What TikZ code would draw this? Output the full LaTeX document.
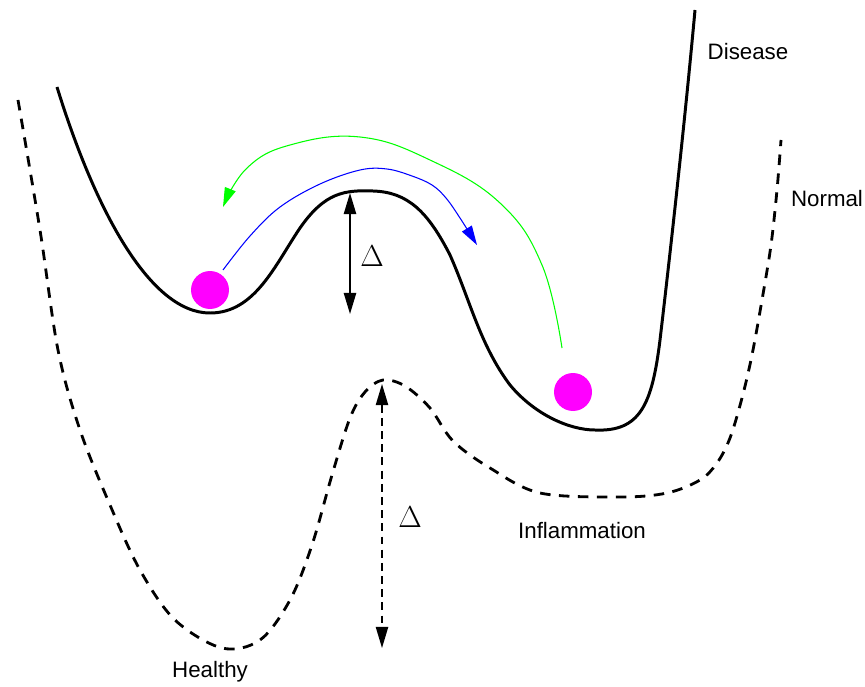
\documentclass[tikz,border=0pt]{standalone}
\usepackage{fontspec}
\newfontfamily\labelfont{Liberation Sans}
\usetikzlibrary{arrows.meta}
\definecolor{ballcol}{RGB}{255,0,255}
\definecolor{upcol}{RGB}{0,255,0}
\definecolor{downcol}{RGB}{0,0,255}
\begin{document}
\begin{tikzpicture}[x=0.02cm, y=-0.02cm,
  landscape/.style={line width=1.7pt, line join=round},
  relaxed/.style={line width=1.6pt, dash pattern=on 6pt off 4.8pt},
  barrier/.style={line width=0.9pt, {Triangle[length=12pt,width=7pt]}-{Triangle[length=12pt,width=7pt]}},
  path/.style={line width=0.6pt, -{Triangle[length=11pt,width=6.5pt]}},
  state/.style={circle, fill=ballcol, minimum size=0.76cm, inner sep=0pt},
  tag/.style={font=\labelfont\fontsize{12.7}{15}\selectfont, inner sep=0pt},
  gap/.style={font=\fontsize{17}{20}\selectfont, inner sep=0pt}]
\useasboundingbox (0,0) rectangle (865,686);

% disease landscape (solid)
\draw[landscape] (57,87)
  .. controls (95,210) and (150,313) .. (210,313)
  .. controls (255,313) and (275,265) .. (300,228)
  .. controls (325,192) and (345,190) .. (373,191)
  .. controls (408,192) and (428,212) .. (450,255)
  .. controls (470,300) and (480,345) .. (510,385)
  .. controls (535,415) and (570,430) .. (595,430)
  .. controls (640,432) and (652,405) .. (660,340)
  .. controls (670,255) and (685,120) .. (695,10);

% normal landscape (dashed)
\draw[relaxed] plot[smooth, tension=0.55] coordinates {
  (18,100) (40,230) (58,350) (80,430) (110,505) (140,570) (175,620)
  (222,648) (260,640) (290,600) (312,545) (332,475) (350,418)
  (365,392) (383,380) (405,386) (430,408) (453,441) (490,468)
  (540,493) (620,497) (667,493) (700,480) (717,463) (730,438)
  (742,398) (752,355) (762,300) (771,245) (777,190) (781,140)};

% states
\node[state] (s1) at (210,290) {};
\node[state] (s2) at (573,392) {};

% barrier heights
\coordinate (b1t) at (350,193);
\coordinate (b1b) at (350,314);
\draw[barrier] (b1t) -- (b1b);
\node[gap] (d1) at (372,256) {$\Delta$};

\coordinate (b2t) at (382,384);
\coordinate (b2b) at (382,648);
\draw[barrier, line width=0.8pt, dash pattern=on 4.5pt off 3pt] (b2t) -- (b2b);
\node[gap] (d2) at (410,517) {$\Delta$};

% transitions between states
\draw[path, downcol] plot[smooth, tension=0.6] coordinates {
  (223,270) (250,236) (280,207) (320,184) (360,170) (387,169)
  (412,176) (432,185) (446,198) (460,218) (477,245)};
\draw[path, upcol] plot[smooth, tension=0.7] coordinates {
  (562,348) (542,265) (500,203) (430,160) (360,137)
  (290,145) (247,168) (223,207)};

% labels
\node[tag] (disease) at (748,52) {Disease};
\node[tag] (normal) at (827,199) {Normal};
\node[tag] (inflam) at (582,531) {Inflammation};
\node[tag] (healthy) at (210,672) {Healthy};
\end{tikzpicture}
\end{document}
